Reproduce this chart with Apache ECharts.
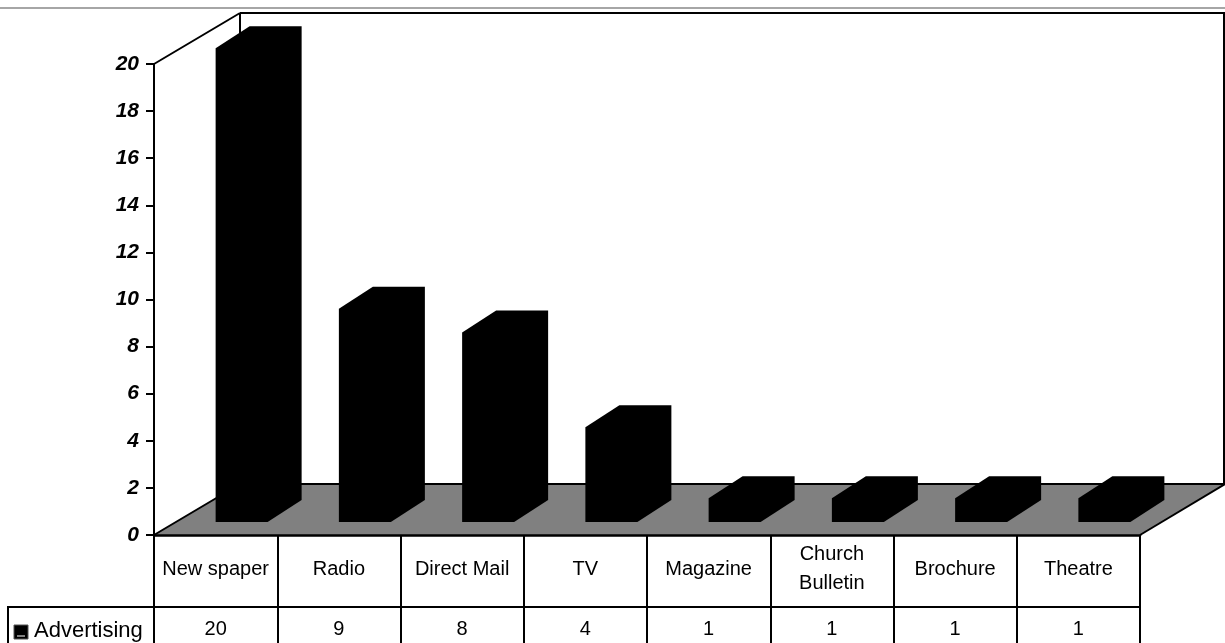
<!DOCTYPE html>
<html><head><meta charset="utf-8">
<style>html,body{margin:0;padding:0;background:#fff}#c{width:1225px;height:643px}</style>
<script src="https://cdn.jsdelivr.net/npm/echarts@6/dist/echarts.min.js"></script>
</head><body><div id="c"></div>
<script>
const categories = ['New spaper','Radio','Direct Mail','TV','Magazine','Church\nBulletin','Brochure','Theatre'];
const seriesName = 'Advertising';
const values = [20,9,8,4,1,1,1,1];
const yTicks = {min:0,max:20,interval:2};

const G = {left:154,right:1140,top:64,bottom:535};
const wall = {dx:86,dy:-51};
const barStyle = {w:52,dx:34,dy:-22,baseLift:13,shift:0,scale:1.006};
const font = 'Liberation Sans, Arial, sans-serif';
const chart = echarts.init(document.getElementById('c'),null,{renderer:'canvas'});

const L = (x1,y1,x2,y2,w,c)=>({type:'line',shape:{x1,y1,x2,y2},style:{stroke:c||'#000',lineWidth:w||2},silent:true,z:1});

chart.setOption({
  animation:false,
  backgroundColor:'#fff',
  grid:{left:G.left,top:G.top,width:G.right-G.left,height:G.bottom-G.top,containLabel:false},
  xAxis:[
    {type:'category',data:categories,position:'bottom',
     axisLine:{lineStyle:{color:'#000',width:2.5}},
     axisTick:{show:true,length:72,lineStyle:{color:'#000',width:2}},
     axisLabel:{interval:0,margin:34,verticalAlign:'middle',fontFamily:font,fontSize:20,color:'#000',lineHeight:29}},
    {type:'category',data:values.map(String),position:'bottom',offset:72,
     axisLine:{lineStyle:{color:'#000',width:2}},
     axisTick:{show:true,length:36,lineStyle:{color:'#000',width:2}},
     axisLabel:{interval:0,margin:22,verticalAlign:'middle',fontFamily:font,fontSize:20,color:'#000'}}
  ],
  yAxis:{type:'value',min:yTicks.min,max:yTicks.max,interval:yTicks.interval,
     axisLine:{show:true,lineStyle:{color:'#000',width:2}},
     axisTick:{show:true,length:8,lineStyle:{color:'#000',width:2}},
     splitLine:{show:false},
     axisLabel:{margin:15,fontFamily:font,fontSize:21,fontWeight:'bold',fontStyle:'italic',color:'#000'}},
  graphic:{elements:[
    L(0,8,1225,8,1.5,'#888'),
    {type:'polygon',shape:{points:[[G.left,G.bottom],[G.left+wall.dx,G.bottom+wall.dy],[1225,G.bottom+wall.dy],[G.right,G.bottom]]},style:{fill:'#808080'},silent:true,z:0},
    L(G.left,G.top,G.left+wall.dx,G.top+wall.dy),
    L(G.left+wall.dx,G.top+wall.dy,1225,G.top+wall.dy),
    L(G.left+wall.dx,G.top+wall.dy,G.left+wall.dx,G.bottom+wall.dy),
    L(G.left+wall.dx,G.bottom+wall.dy,1225,G.bottom+wall.dy),
    L(1224,G.top+wall.dy,1224,G.bottom+wall.dy),
    L(G.left,G.bottom,G.left+wall.dx,G.bottom+wall.dy),
    L(G.right,G.bottom,1225,G.bottom+wall.dy),
    L(8,607,G.left,607),
    L(8,606,8,643),
    {type:'rect',shape:{x:14,y:625,width:14,height:14},style:{fill:'#000',stroke:'#555',lineWidth:1},silent:true,z:1},
    L(17,636,25,636,1,'#fff'),
    {type:'text',style:{x:34,y:631,text:seriesName,fontFamily:font,fontSize:22,fill:'#000',verticalAlign:'middle'},silent:true,z:1}
  ]},
  series:[{
    type:'custom',name:seriesName,coordinateSystem:'cartesian2d',data:values.map((v,i)=>[i,v]),z:3,clip:false,
    renderItem(params,api){
      const i=api.value(0),v=api.value(1);
      const b=api.coord([i,0]),t=api.coord([i,v]);
      const x=b[0]+barStyle.shift,y0=b[1]-barStyle.baseLift,y1=y0-(b[1]-t[1])*barStyle.scale;
      const {w,dx,dy}=barStyle;
      return {type:'polygon',shape:{points:[[x,y0],[x,y1],[x+dx,y1+dy],[x+w+dx,y1+dy],[x+w+dx,y0+dy],[x+w,y0]]},style:{fill:'#000',stroke:'#000',lineWidth:0}};
    }
  }]
});
</script></body></html>
